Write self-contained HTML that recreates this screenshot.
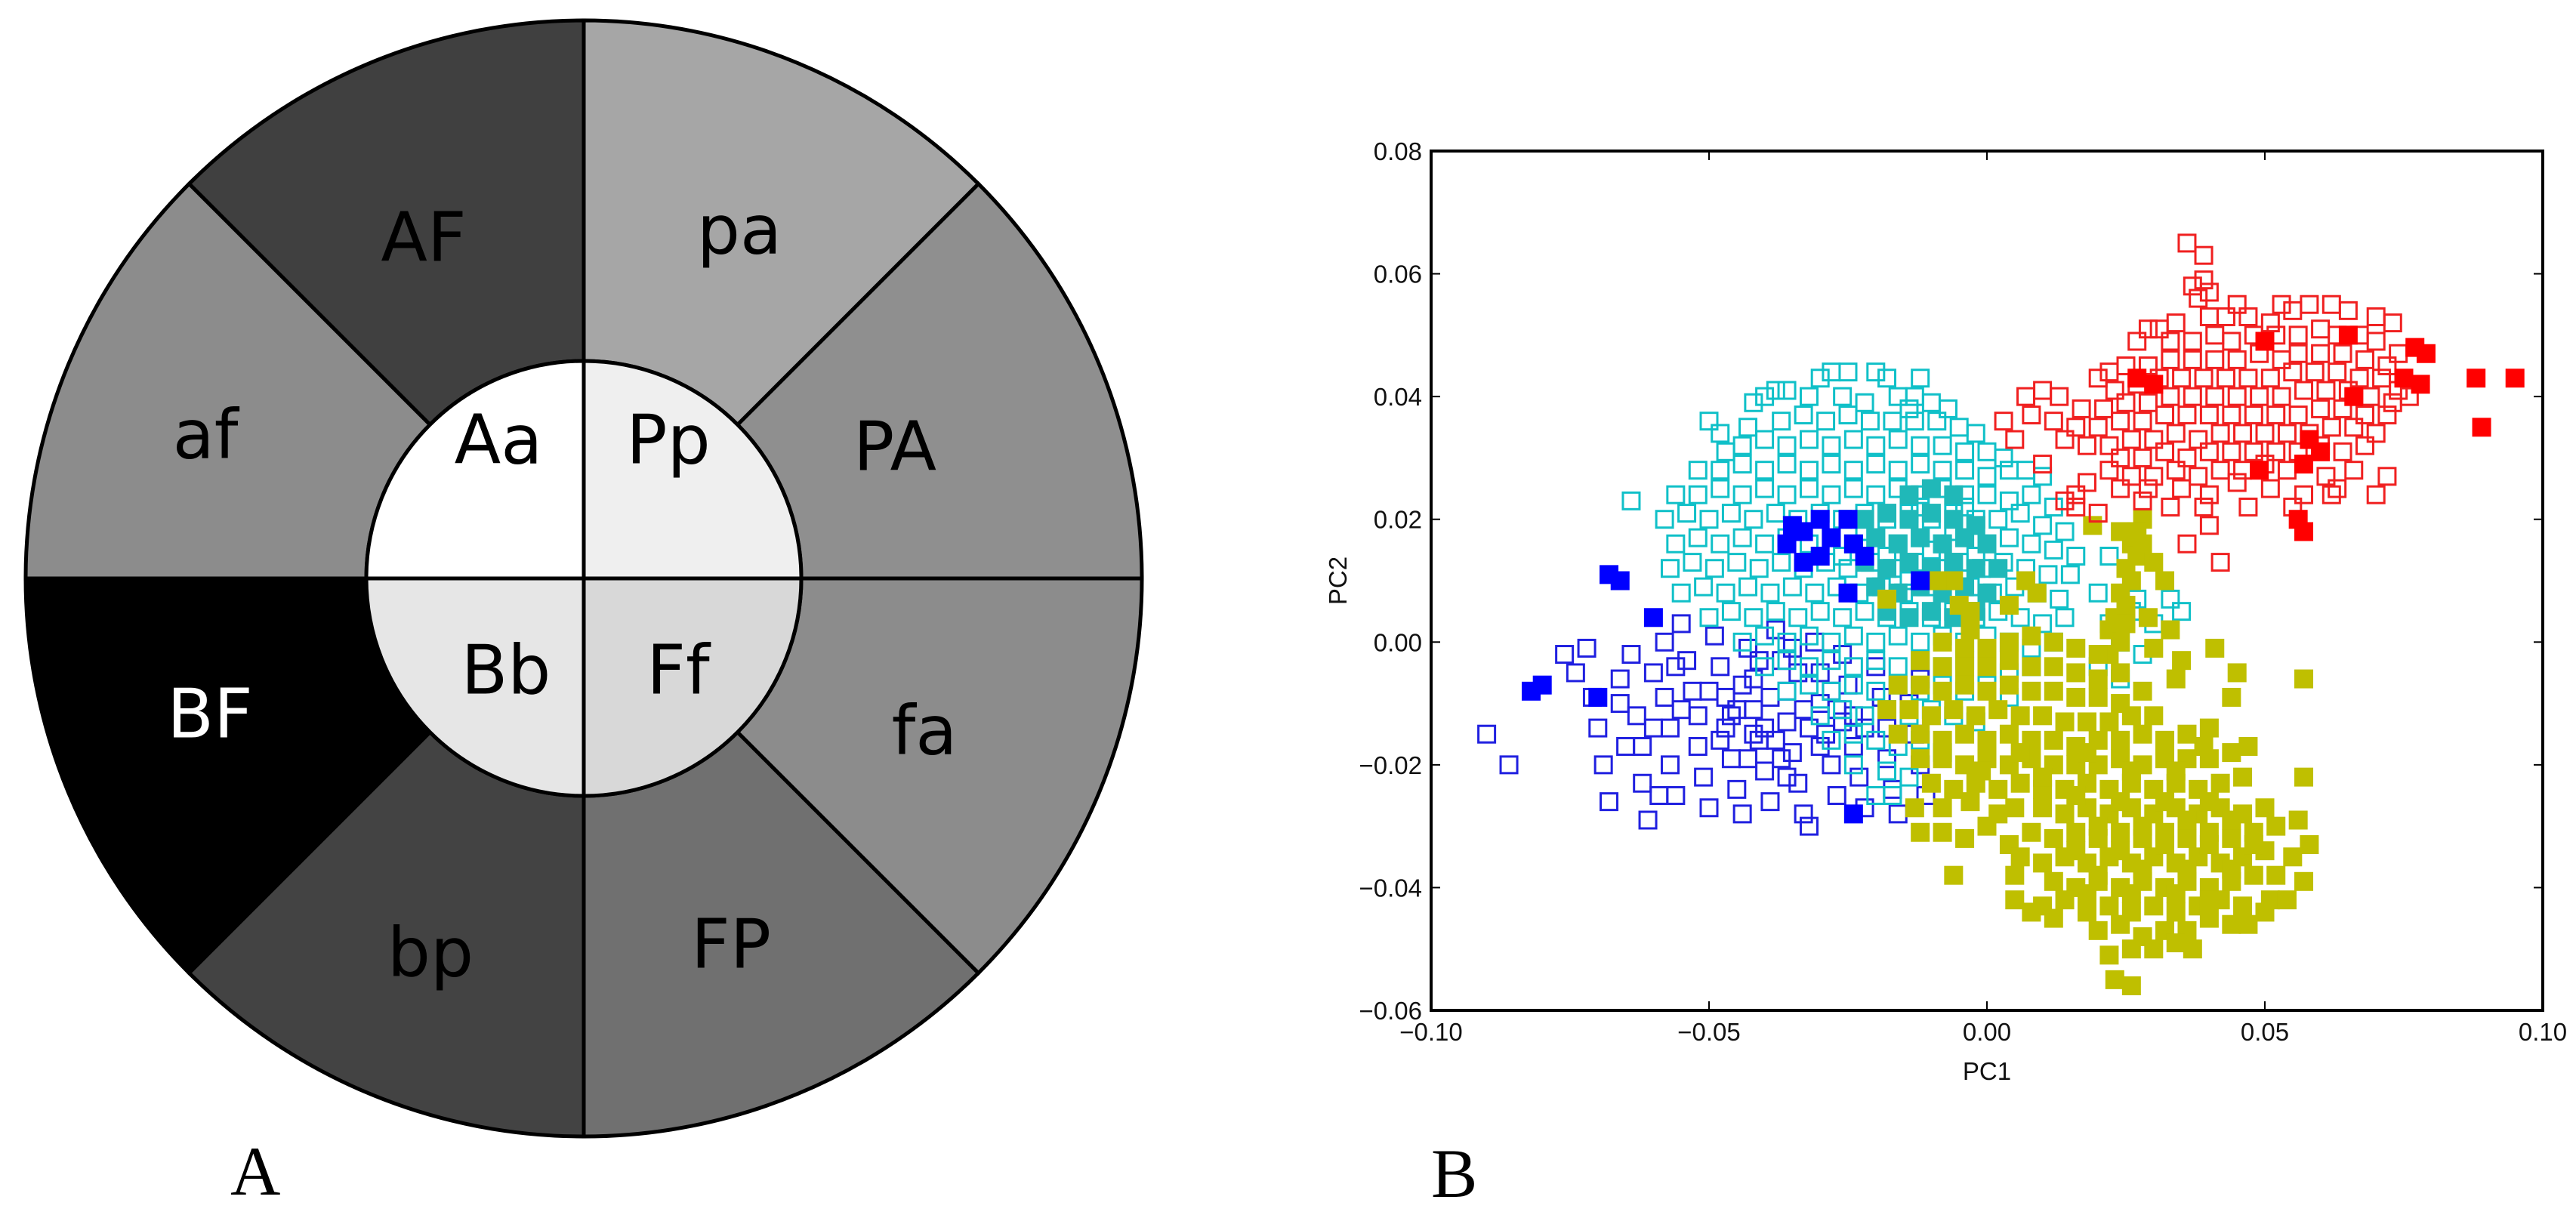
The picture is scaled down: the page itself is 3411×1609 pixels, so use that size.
<!DOCTYPE html>
<html><head><meta charset="utf-8"><style>
html,body{margin:0;padding:0;background:#fff;width:3411px;height:1609px;overflow:hidden}
svg{display:block}
.lbl{font-family:"DejaVu Sans","Liberation Sans",sans-serif;font-size:90px;text-anchor:middle;dominant-baseline:central}
.tick{font-family:"Liberation Sans",sans-serif;font-size:33px;fill:#111}
</style></head><body>
<svg id="root" width="3411" height="1609" viewBox="0 0 3411 1609" xmlns="http://www.w3.org/2000/svg">
<g id="wheel"></g>
<text x="305" y="1582" font-family="Liberation Serif,serif" font-size="92">A</text>
<text x="1895" y="1585" font-family="Liberation Serif,serif" font-size="92">B</text>
<g id="chart"></g>
</svg>
<script>
const NS="http://www.w3.org/2000/svg";
function mk(tag,attrs,parent){const e=document.createElementNS(NS,tag);for(const k in attrs)e.setAttribute(k,attrs[k]);parent.appendChild(e);return e;}

/* ---------- wheel ---------- */
const outerLabels=["PA","pa","AF","af","BF","bp","FP","fa"];
const outerFills=["#8f8f8f","#a6a6a6","#404040","#8c8c8c","#000000","#434343","#707070","#8c8c8c"];
const outerPos=[[1185,592],[979,305],[561,315],[272,576],[278,946],[570,1262],[968,1251],[1224,968]];
const innerLabels=["Pp","Aa","Bb","Ff"];
const innerFills=["#efefef","#ffffff","#e6e6e6","#d8d8d8"];
const innerPos=[[885,583],[660,583],[670,888],[898,888]];
const W=document.getElementById('wheel');
const cx=773,cy=766,R=739,r=288;
function pt(rad,deg){const a=deg*Math.PI/180;return [cx+rad*Math.cos(a),cy-rad*Math.sin(a)];}
outerLabels.forEach((lab,i)=>{
  const a0=i*45,a1=a0+45;
  const p0=pt(R,a0),p1=pt(R,a1),q1=pt(r,a1),q0=pt(r,a0);
  const p=mk('path',{d:`M${q0} L${p0} A${R} ${R} 0 0 0 ${p1} L${q1} A${r} ${r} 0 0 1 ${q0}Z`,fill:outerFills[i],stroke:'#000','stroke-width':5},W);
  
  
  const t=mk('text',{x:outerPos[i][0],y:outerPos[i][1],class:'lbl',fill:lab==="BF"?"#fff":"#000"},W);t.textContent=lab;
  
  
});
innerLabels.forEach((lab,i)=>{
  const a0=i*90,a1=a0+90;
  const q0=pt(r,a0),q1=pt(r,a1);
  const p=mk('path',{d:`M${cx},${cy} L${q0} A${r} ${r} 0 0 0 ${q1}Z`,fill:innerFills[i],stroke:'#000','stroke-width':5},W);
  
  
  const t=mk('text',{x:innerPos[i][0],y:innerPos[i][1],class:'lbl',fill:'#000'},W);t.textContent=lab;
  
  
});

/* ---------- scatter data (units of 1e-3) ---------- */
const xTicks=[-0.10,-0.05,0.00,0.05,0.10];
const yTicks=[0.08,0.06,0.04,0.02,0.00,-0.02,-0.04,-0.06];
const blueOpen=[-90,-15,-86,-20,-76,-2,-74,-5,-72,-1,-71,-9,-70,-14,-69,-20,-68,-26,-66,-6,-64,-2,-63,-12,-62,-17,-62,-23,-61,-29,-60,-5,-58,0,-58,-9,-57,-14,-57,-20,-56,-25,-55,3,-54,-3,-53,-8,-52,-12,-52,-17,-51,-22,-50,-27,-49,1,-48,-4,-47,-9,-47,-14,-46,-19,-45,-24,-44,-28,-43,-1,-42,-6,-42,-11,-41,-16,-40,-21,-39,-26,-38,2,-37,-3,-36,-8,-36,-13,-35,-18,-34,-23,-33,-28,-32,-30,-31,0,-30,-5,-30,-10,-29,-15,-28,-20,-27,-25,-26,-2,-25,-7,-24,-12,-24,-17,-23,-22,-22,-27,-20,-4,-19,-9,-18,-14,-18,-19,-17,-24,-16,-28,-14,-10,-13,-15,-12,-20,-11,-25,-12,-6,-45,-11,-44,-7,-38,-16,-33,-11,-40,-14,-48,-16,-50,-8,-55,-11,-60,-14,-65,-17,-34,-5,-28,-8,-22,-14,-39,-9,-26,-13,-43,-19,-36,-22,-30,-17,-59,-25,-66,-10,-56,-4,-46,-12,-42,-15,-37,-19,-32,-14,-27,-11,-41,-3,-35,-1];
const cyanOpen=[-30,43,-28,44,-25,44,-20,44,-18,43,-12,43,-38,41,-36,41,-42,39,-40,40,-32,40,-26,40,-22,39,-16,40,-13,40,-10,39,-7,38,-14,38,-50,36,-48,34,-43,35,-37,36,-33,37,-29,36,-25,37,-21,36,-17,36,-13,36,-9,36,-5,35,-2,34,-47,31,-44,32,-40,33,-36,32,-32,33,-28,32,-24,33,-20,32,-16,33,-12,32,-8,32,-4,31,0,31,3,30,-52,28,-48,28,-44,29,-40,28,-36,29,-32,28,-28,29,-24,28,-20,29,-16,28,-12,29,-8,28,-4,28,0,27,4,28,7,28,10,27,-56,24,-52,24,-48,25,-44,24,-40,25,-36,24,-32,25,-28,24,-24,25,-20,24,-16,25,-12,24,-8,25,-4,24,0,24,4,23,8,24,12,22,-58,20,-54,21,-50,20,-46,21,-42,20,-38,21,-34,20,-30,21,-26,20,-22,21,-18,20,-14,21,-10,20,-6,21,-2,20,2,20,6,21,10,19,14,18,-56,16,-52,17,-48,16,-44,17,-40,16,-36,17,-32,16,-28,17,-24,16,-20,17,-16,16,-12,17,-8,16,-4,17,0,16,4,17,8,16,12,15,16,14,22,14,-57,12,-53,13,-49,12,-45,13,-41,12,-37,13,-33,12,-29,13,-25,12,-21,13,-17,12,-13,13,-9,12,-5,13,-1,12,3,13,7,12,11,11,15,11,-55,8,-51,9,-47,8,-43,9,-39,8,-35,9,-31,8,-27,9,-23,8,-19,9,-15,8,-11,9,-7,8,-3,9,1,8,5,9,9,8,13,7,20,8,27,7,33,7,35,5,-50,4,-46,5,-42,4,-38,5,-34,4,-30,5,-26,4,-22,5,-18,4,-14,5,-10,4,-6,5,-2,4,2,5,6,4,10,3,14,4,22,3,26,5,30,3,-44,0,-40,1,-36,0,-32,1,-28,0,-24,1,-20,0,-16,1,-12,0,-8,1,-4,0,0,1,4,0,8,-1,12,0,24,0,28,-2,-40,-4,-36,-3,-32,-4,-28,-3,-24,-4,-20,-3,-16,-4,-12,-3,-8,-4,-4,-3,0,-4,4,-5,8,-4,20,-4,24,-6,-36,-8,-32,-7,-28,-8,-24,-7,-20,-8,-16,-7,-12,-8,-8,-7,-4,-8,0,-7,4,-9,-30,-12,-26,-11,-22,-12,-18,-11,-14,-12,-10,-11,-6,-12,-2,-13,-28,-16,-24,-15,-20,-16,-16,-17,-12,-16,-8,-18,-24,-20,-18,-21,-14,-22,-20,-25,-17,-25,-64,23,-18,14,-14,10,-10,15,-6,18,-2,14,-22,18,-26,14,-12,22,-8,10,-4,22];
const cyanCore=[-22,20,-18,21,-14,20,-10,21,-6,20,-2,19,-20,17,-16,16,-12,17,-8,16,-4,17,0,16,-22,13,-18,12,-14,13,-10,12,-6,13,-2,12,2,12,-20,9,-16,8,-12,9,-8,8,-4,9,0,8,-14,24,-10,25,-6,24,-18,5,-14,4,-10,5,-6,4,-2,5];
const yellowFilled=[28,20,27,18,26,16,27,14,25,12,26,10,24,8,25,6,23,4,22,2,24,0,22,-2,34,-6,41,-1,45,-5,44,-9,57,-6,57,-22,39,-17,35,-3,30,-1,9,8,4,6,-6,10,-9,10,-18,7,7,10,-5,6,-3,5,-3,2,19,19,24,18,28,16,30,13,32,10,33,2,29,4,25,3,-8,0,-4,-1,0,-1,4,0,8,1,12,0,16,-1,20,-2,-12,-3,-8,-4,-4,-4,0,-4,4,-3,8,-4,12,-4,16,-5,20,-6,24,-5,-16,-7,-12,-7,-8,-8,-4,-7,0,-8,4,-7,8,-8,12,-8,16,-9,20,-9,24,-10,28,-8,-18,-11,-14,-11,-10,-12,-6,-11,-2,-12,2,-11,6,-12,10,-12,14,-13,18,-13,22,-13,26,-12,30,-12,-16,-15,-12,-15,-8,-16,-4,-15,0,-16,4,-15,8,-16,12,-16,16,-17,20,-16,24,-16,28,-15,32,-16,36,-15,40,-14,-12,-19,-8,-19,-4,-20,0,-19,4,-20,8,-19,12,-20,16,-20,20,-20,24,-19,28,-20,32,-19,36,-19,40,-19,44,-18,47,-17,-10,-23,-6,-24,-2,-23,2,-24,6,-23,10,-24,14,-24,18,-23,22,-24,26,-23,30,-24,34,-23,38,-24,42,-23,46,-22,-13,-27,-8,-27,-3,-26,5,-27,10,-27,14,-28,18,-27,22,-28,26,-27,30,-28,34,-27,38,-28,42,-27,46,-28,50,-27,-12,-31,-8,-31,-4,-32,4,-33,8,-31,12,-32,16,-31,20,-32,24,-31,28,-32,32,-31,36,-32,40,-31,44,-32,48,-31,52,-30,56,-29,6,-35,10,-36,14,-35,18,-36,22,-35,26,-36,30,-35,34,-36,38,-35,42,-36,46,-35,50,-34,55,-35,58,-33,-6,-38,5,-38,12,-39,16,-40,20,-39,24,-40,28,-39,32,-40,36,-39,40,-40,44,-39,48,-38,52,-38,57,-39,10,-43,14,-42,18,-44,22,-43,26,-44,30,-43,34,-44,38,-43,42,-42,46,-43,51,-42,8,-44,20,-47,24,-46,28,-48,32,-47,36,-47,40,-45,44,-46,26,-50,30,-50,34,-49,22,-51,37,-50,23,-55,26,-56,12,-45,5,-42,47,-46,50,-44,54,-42,0,-30,2,-28,-1,-21,6,-18,10,-22,18,-18,26,-21,34,-21,16,-25,24,-26,32,-26,40,-26,20,-30,28,-30,36,-29,44,-29,16,-34,24,-34,32,-33,40,-33,48,-33,20,-38,28,-37,36,-37,44,-37,18,-41,26,-41,34,-41,40,-42];
const redOpen=[36,65,39,63,37,58,39,59,40,57,38,56,45,55,53,55,55,54,58,55,62,55,65,54,70,53,73,52,51,52,47,53,43,53,40,53,34,52,31,51,29,51,27,49,33,49,37,49,41,50,44,49,48,50,52,50,56,50,60,51,63,50,67,50,70,49,74,47,72,45,68,46,64,47,60,47,56,47,53,46,49,47,45,46,41,46,37,46,33,46,29,45,25,45,22,44,20,43,23,41,27,42,31,43,35,43,39,43,43,43,47,43,51,43,55,44,59,44,63,44,67,43,71,43,74,41,76,40,73,39,69,40,65,41,61,41,57,41,53,40,49,40,45,40,41,40,37,40,33,40,29,39,25,39,21,38,17,38,13,40,10,41,7,40,8,37,12,36,16,35,20,35,24,36,28,36,32,37,36,37,40,37,44,37,48,37,52,37,56,37,60,38,64,38,68,37,72,37,70,34,66,35,62,35,58,34,54,34,50,34,46,34,42,34,38,33,34,34,30,33,26,33,22,32,18,32,14,33,24,30,28,30,32,31,36,30,40,31,44,31,48,31,52,31,56,31,60,32,64,31,68,32,22,28,26,27,30,27,34,28,38,27,42,28,46,28,50,29,54,28,61,27,66,28,72,27,18,26,24,25,29,25,35,25,40,24,45,26,51,25,57,24,63,25,70,24,14,23,16,22,20,21,28,23,33,22,39,22,47,22,55,22,62,24,40,19,36,16,42,13,16,24,10,29,5,33,3,36];
const redFilled=[27,43,30,42,50,49,65,50,77,48,79,47,75,43,78,42,88,43,95,43,89,35,49,28,57,29,60,31,56,20,57,18,66,40,58,33];
const blueFilled=[-82,-8,-80,-7,-70,-9,-68,11,-66,10,-60,4,-36,16,-35,19,-33,18,-30,20,-28,17,-25,20,-24,16,-30,14,-22,14,-25,8,-12,10,-24,-28,-33,13];

/* ---------- axes ---------- */
const X0=1895,X1=3367,Y0=200,Y1=1338;
const xs=v=>X0+(v+0.1)/0.2*(X1-X0);
const ys=v=>Y0+(0.08-v)/0.14*(Y1-Y0);
const C=document.getElementById('chart');
mk('rect',{x:X0,y:Y0,width:X1-X0,height:Y1-Y0,fill:'#fff'},C);
const S=25;
function series(arr,name,color,filled){
  const g=mk('g',{},C);
  
  
  for(let i=0;i<arr.length;i+=2){
    const px=xs(arr[i]/1000),py=ys(arr[i+1]/1000);
    const a=filled?{x:px-S/2,y:py-S/2,width:S,height:S,fill:color}:{x:px-S/2+1.5,y:py-S/2+1.5,width:S-3,height:S-3,fill:'none',stroke:color,'stroke-width':3};
    const m=mk('rect',a,g);
    
    
  }
}
series(blueOpen,'blue-open-series','#2020e0',false);
series(cyanOpen,'cyan-open-series','#10c0c8',false);
series(cyanCore,'cyan-core-series','#20b8b8',true);
series(yellowFilled,'yellow-filled-series','#bfbf00',true);
series(redOpen,'red-open-series','#f02020',false);
series(redFilled,'red-filled-series','#ff0000',true);
series(blueFilled,'blue-filled-series','#0000ff',true);

const frame=mk('rect',{x:X0,y:Y0,width:X1-X0,height:Y1-Y0,fill:'none',stroke:'#000','stroke-width':4},C);


xTicks.forEach(v=>{
  const x=xs(v);
  mk('line',{x1:x,y1:Y1,x2:x,y2:Y1-12,stroke:'#000','stroke-width':2},C);
  mk('line',{x1:x,y1:Y0,x2:x,y2:Y0+12,stroke:'#000','stroke-width':2},C);
  const t=mk('text',{x:x,y:Y1+40,class:'tick','text-anchor':'middle'},C);
  t.textContent=(v<0?'\u2212':'')+Math.abs(v).toFixed(2);
  
  
});
yTicks.forEach(v=>{
  const y=ys(v);
  mk('line',{x1:X0,y1:y,x2:X0+12,y2:y,stroke:'#000','stroke-width':2},C);
  mk('line',{x1:X1,y1:y,x2:X1-12,y2:y,stroke:'#000','stroke-width':2},C);
  const t=mk('text',{x:X0-12,y:y+12,class:'tick','text-anchor':'end'},C);
  t.textContent=(v<0?'\u2212':'')+Math.abs(v).toFixed(2);
  
  
});
const xt=mk('text',{x:(X0+X1)/2,y:1430,class:'tick','text-anchor':'middle'},C);xt.textContent='PC1';


const yt=mk('text',{x:1783,y:(Y0+Y1)/2,class:'tick','text-anchor':'middle',transform:`rotate(-90 1783 ${(Y0+Y1)/2})`},C);yt.textContent='PC2';


</script>
</body></html>
